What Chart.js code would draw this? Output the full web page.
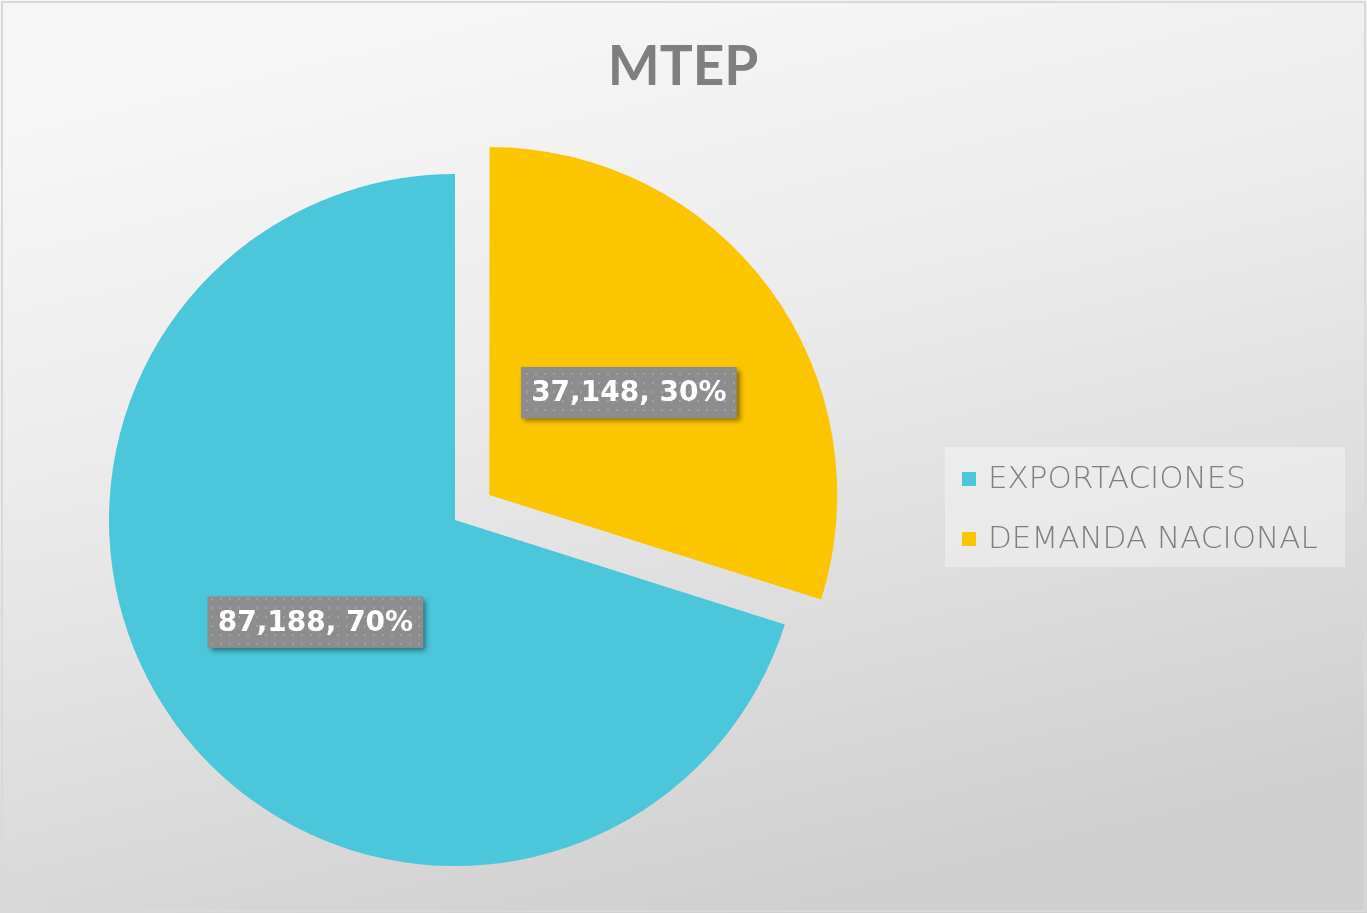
<!DOCTYPE html>
<html><head><meta charset="utf-8">
<script src="https://cdn.jsdelivr.net/npm/chart.js@4"></script>
<style>html,body{margin:0;padding:0;background:#fff}#wrap{width:1367px;height:913px}</style>
</head><body><div id="wrap"><canvas id="c" width="1367" height="913"></canvas></div>
<script>
const chartTitle = 'MTEP';
const categories = ['EXPORTACIONES', 'DEMANDA NACIONAL'];
const values = [87188, 37148];
const sliceColors = ['#4BC6DB', '#FBC500'];
const sliceOffsets = [0, 170];

const total = values.reduce((a, b) => a + b, 0);
// Excel-style first slice angle: exportaciones starts where demanda ends
const firstAngle = 360 * values[1] / total;

function makeDotPattern(ctx) {
  const c = document.createElement('canvas');
  c.width = 9; c.height = 9;
  const g = c.getContext('2d');
  g.fillStyle = '#8d8d8d'; g.fillRect(0, 0, 9, 9);
  g.fillStyle = '#a0a0a0'; g.fillRect(4, 4, 2, 2);
  return ctx.createPattern(c, 'repeat');
}

const decor = {
  id: 'decor',
  beforeDraw(chart) {
    const ctx = chart.ctx, W = chart.width, H = chart.height;
    ctx.save();
    const g = ctx.createLinearGradient(W * 0.42, 0, W * 0.58, H);
    g.addColorStop(0, '#f6f6f6');
    g.addColorStop(0.35, '#ececec');
    g.addColorStop(0.7, '#dddddd');
    g.addColorStop(1, '#cfcfcf');
    ctx.fillStyle = g;
    ctx.fillRect(0, 0, W, H);
    ctx.strokeStyle = '#d9d9d9';
    ctx.lineWidth = 2;
    ctx.strokeRect(2, 2, W - 4, H - 4);
    ctx.restore();
  },
  afterDatasetsDraw(chart) {
    const ctx = chart.ctx;
    const meta = chart.getDatasetMeta(0);
    const pat = makeDotPattern(ctx);
    meta.data.forEach((el, i) => {
      const half = (el.startAngle + el.endAngle) / 2;
      const dist = el.outerRadius / 2 + (el.options.offset || 0) / 4;
      const x = el.x + Math.cos(half) * dist;
      const y = el.y + Math.sin(half) * dist;
      const txt = values[i].toLocaleString('en-US') + ', ' + Math.round(values[i] / total * 100) + '%';
      ctx.save();
      ctx.font = 'bold 28px "DejaVu Sans"';
      const w = ctx.measureText(txt).width + 20, h = 51;
      ctx.shadowColor = 'rgba(0,0,0,0.45)';
      ctx.shadowBlur = 5; ctx.shadowOffsetX = 3; ctx.shadowOffsetY = 3;
      ctx.fillStyle = '#8d8d8d';
      ctx.fillRect(x - w / 2, y - h / 2, w, h);
      ctx.shadowColor = 'transparent';
      ctx.fillStyle = pat;
      ctx.fillRect(x - w / 2, y - h / 2, w, h);
      ctx.fillStyle = '#ffffff';
      ctx.textAlign = 'center';
      ctx.textBaseline = 'middle';
      ctx.fillText(txt, x, y + 1);
      ctx.restore();
    });
  },
  afterDraw(chart) {
    const ctx = chart.ctx;
    ctx.save();
    // title
    ctx.fillStyle = '#7f7f7f';
    ctx.font = 'bold 55px Lato';
    ctx.textAlign = 'center';
    ctx.textBaseline = 'alphabetic';
    ctx.fillText(chartTitle, 683, 85);
    // legend
    ctx.fillStyle = 'rgba(255,255,255,0.35)';
    ctx.fillRect(945, 447, 400, 120);
    ctx.font = '200 31px "DejaVu Sans"';
    ctx.textAlign = 'left';
    ctx.textBaseline = 'middle';
    categories.forEach((c, i) => {
      const cy = 479 + i * 60;
      ctx.fillStyle = sliceColors[i];
      ctx.fillRect(962, cy - 7, 14, 14);
      ctx.fillStyle = '#7f7f7f';
      ctx.fillText(c, 988, cy + 1);
    });
    ctx.restore();
  }
};

new Chart(document.getElementById('c'), {
  type: 'pie',
  data: {
    labels: categories,
    datasets: [{
      data: values,
      backgroundColor: sliceColors,
      borderWidth: 0,
      offset: sliceOffsets,
      hoverOffset: 0
    }]
  },
  options: {
    responsive: false,
    animation: false,
    rotation: firstAngle,
    radius: 346,
    layout: { padding: { left: 10, right: 467, top: 130, bottom: 3 } },
    plugins: {
      legend: { display: false },
      title: { display: false },
      tooltip: { enabled: false }
    }
  },
  plugins: [decor]
});
</script>
</body></html>
